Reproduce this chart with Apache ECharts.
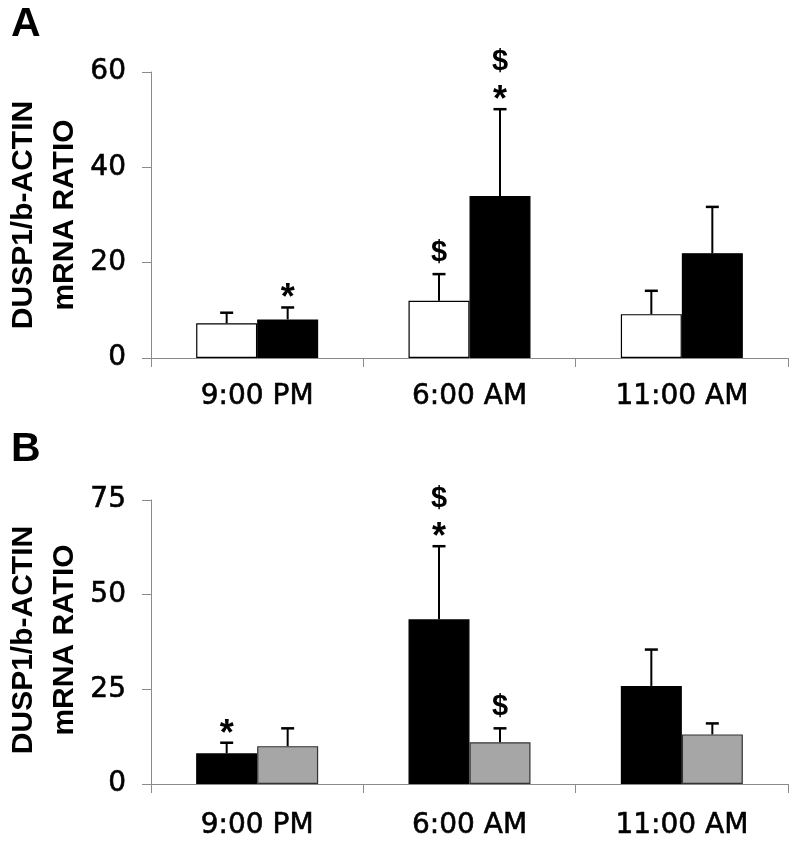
<!DOCTYPE html>
<html>
<head>
<meta charset="utf-8">
<script src="https://cdn.jsdelivr.net/npm/echarts@6/dist/echarts.min.js"></script>
<style>html,body{margin:0;padding:0;background:#fff;}#c{width:800px;height:846px;}</style>
</head>
<body>
<div id="c"></div>
<script>
// ---- data ----
var categories = ['9:00 PM', '6:00 AM', '11:00 AM'];
// Panel A
var aWhite = [7.3, 12.0, 9.2];
var aWhiteErr = [2.2, 5.6, 4.9];
var aWhiteAnn = ['', '$', ''];
var aBlack = [8.1, 34.0, 22.0];
var aBlackErr = [2.5, 18.2, 9.7];
var aBlackAnn = ['*', '$*', ''];
var aTicks = {min: 0, max: 60, interval: 20};
// Panel B
var bBlack = [8.1, 43.5, 25.9];
var bBlackErr = [2.8, 19.3, 9.6];
var bBlackAnn = ['*', '$*', ''];
var bGray = [10.0, 11.0, 13.1];
var bGrayErr = [4.7, 3.7, 2.9];
var bGrayAnn = ['', '$', ''];
var bTicks = {min: 0, max: 75, interval: 25};
var yTitle = 'DUSP1/b-ACTIN\nmRNA RATIO';
var panelLetters = ['A', 'B'];

// ---- rendering ----
var FONT = '"Liberation Sans", Arial, sans-serif';
var TICKFONT = '"DejaVu Sans", sans-serif';
var BAR_W = 61;
var chart = echarts.init(document.getElementById('c'), null, {renderer: 'canvas'});

function errSeries(axisIdx, vals, errs, anns, offset) {
  return {
    type: 'custom',
    xAxisIndex: axisIdx, yAxisIndex: axisIdx,
    z: 5,
    data: vals.map(function (v, i) { return [i, v, errs[i]]; }),
    renderItem: function (params, api) {
      var i = api.value(0), v = api.value(1), e = api.value(2);
      var p0 = api.coord([i, v]);
      var p1 = api.coord([i, v + e]);
      var x = p0[0] + offset;
      var children = [
        {type: 'line', shape: {x1: x, y1: p0[1], x2: x, y2: p1[1]}, style: {stroke: '#000', lineWidth: 2}},
        {type: 'line', shape: {x1: x - 6.5, y1: p1[1], x2: x + 6.5, y2: p1[1]}, style: {stroke: '#000', lineWidth: 2.5}}
      ];
      var ann = anns[params.dataIndex] || '';
      var syms = ann.split('').reverse(); // bottom first
      var base = p1[1];
      syms.forEach(function (s, k) {
        var y, fs;
        if (s === '*') {
          fs = 36;
          y = base - 8 - 30 * k;
        } else {
          fs = 29;
          y = (k === 0) ? base - 21 : base - 17 - 30 * k;
        }
        children.push({type: 'text', x: x, y: y, style: {
          text: s, fontSize: fs, fontWeight: 'bold', fontFamily: FONT,
          align: 'center', verticalAlign: 'middle', fill: '#000'}});
      });
      return {type: 'group', children: children};
    }
  };
}

function barSeries(axisIdx, vals, color, border) {
  return {
    type: 'bar', xAxisIndex: axisIdx, yAxisIndex: axisIdx,
    data: vals, barWidth: BAR_W, barGap: '0%',
    itemStyle: {color: color, borderColor: border, borderWidth: 1.2},
    emphasis: {disabled: true}, silent: true
  };
}

var labelStyle = {color: '#000', fontSize: 28, fontFamily: TICKFONT, textBorderColor: '#000', textBorderWidth: 0.6};

function xAx(idx, margin) {
  return {
    type: 'category', gridIndex: idx, data: categories,
    axisLine: {lineStyle: {color: '#8a8a8a', width: 1}},
    axisTick: {show: true, length: 9, lineStyle: {color: '#8a8a8a'}},
    axisLabel: Object.assign({margin: margin}, labelStyle)
  };
}
function yAx(idx, t) {
  return {
    type: 'value', gridIndex: idx, min: t.min, max: t.max, interval: t.interval,
    splitLine: {show: false},
    axisLine: {show: true, lineStyle: {color: '#8a8a8a', width: 1}},
    axisTick: {show: true, length: 9, lineStyle: {color: '#8a8a8a'}},
    axisLabel: Object.assign({margin: 25}, labelStyle)
  };
}

var option = {
  animation: false,
  backgroundColor: '#fff',
  grid: [
    {left: 151, right: 12, top: 72, height: 286},
    {left: 151, right: 12, top: 500, height: 284}
  ],
  xAxis: [xAx(0, 25), xAx(1, 28)],
  yAxis: [yAx(0, aTicks), yAx(1, bTicks)],
  graphic: [
    {type: 'text', left: 11, top: 4, style: {text: panelLetters[0], fontSize: 41, fontWeight: 'bold', fontFamily: FONT, fill: '#000'}},
    {type: 'text', left: 11, top: 429, style: {text: panelLetters[1], fontSize: 41, fontWeight: 'bold', fontFamily: FONT, fill: '#000'}},
    {type: 'text', x: 44.5, y: 215, rotation: Math.PI / 2, style: {text: yTitle, fontSize: 30, fontWeight: 'bold', fontFamily: FONT, align: 'center', verticalAlign: 'middle', lineHeight: 41, fill: '#000'}},
    {type: 'text', x: 44.5, y: 640, rotation: Math.PI / 2, style: {text: yTitle, fontSize: 30, fontWeight: 'bold', fontFamily: FONT, align: 'center', verticalAlign: 'middle', lineHeight: 41, fill: '#000'}}
  ],
  series: [
    barSeries(0, aWhite, '#ffffff', '#000'),
    barSeries(0, aBlack, '#000000', '#000'),
    errSeries(0, aWhite, aWhiteErr, aWhiteAnn, -BAR_W / 2),
    errSeries(0, aBlack, aBlackErr, aBlackAnn, BAR_W / 2),
    barSeries(1, bBlack, '#000000', '#000'),
    barSeries(1, bGray, '#a6a6a6', '#333'),
    errSeries(1, bBlack, bBlackErr, bBlackAnn, -BAR_W / 2),
    errSeries(1, bGray, bGrayErr, bGrayAnn, BAR_W / 2)
  ]
};
chart.setOption(option);
</script>
</body>
</html>
